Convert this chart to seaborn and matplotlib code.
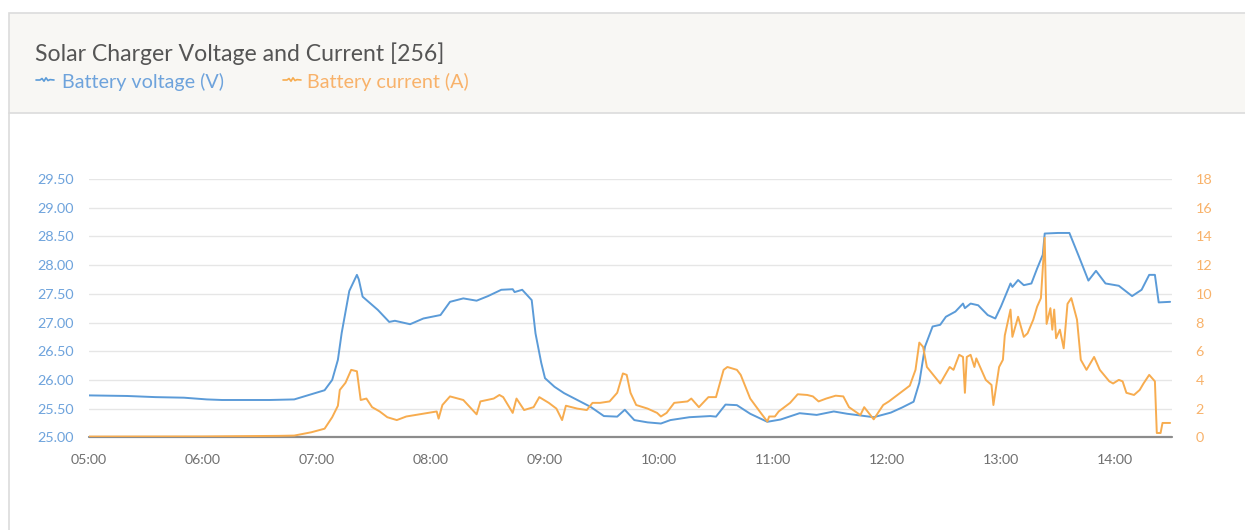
import matplotlib
matplotlib.use("Agg")
import matplotlib.pyplot as plt
import matplotlib.dates as mdates
from matplotlib.patches import Rectangle
from matplotlib.lines import Line2D
import pandas as pd
import seaborn as sns

# Battery voltage samples (time of day, volts)
voltage_times = [
    "05:00", "05:20", "05:35", "05:50", "06:02", "06:10", "06:35", "06:48", "06:55",
    "07:04", "07:08", "07:11", "07:13", "07:17", "07:21", "07:22", "07:24", "07:32",
    "07:38", "07:41", "07:49", "07:56", "08:05", "08:10", "08:17", "08:24", "08:30",
    "08:37", "08:43", "08:44", "08:48", "08:53", "08:55", "08:58", "09:00", "09:05",
    "09:10", "09:17", "09:24", "09:31", "09:38", "09:42", "09:47", "09:54", "10:01",
    "10:06", "10:16", "10:27", "10:30", "10:35", "10:41", "10:48", "10:57", "11:04",
    "11:14", "11:23", "11:32", "11:39", "11:53", "12:02", "12:08", "12:14", "12:17",
    "12:20", "12:24", "12:28", "12:31", "12:36", "12:40", "12:41", "12:44", "12:48",
    "12:53", "12:57", "13:00", "13:05", "13:06", "13:09", "13:12", "13:16", "13:19",
    "13:22", "13:23", "13:30", "13:36", "13:41", "13:46", "13:50", "13:55", "14:02",
    "14:09", "14:14", "14:18", "14:21", "14:23", "14:29",
]
voltage_values = [
    25.73, 25.72, 25.70, 25.69, 25.66, 25.65, 25.65, 25.66, 25.73,
    25.82, 26.00, 26.35, 26.82, 27.55, 27.83, 27.75, 27.45, 27.22,
    27.01, 27.03, 26.97, 27.07, 27.13, 27.36, 27.42, 27.38, 27.46,
    27.57, 27.58, 27.53, 27.57, 27.39, 26.81, 26.30, 26.03, 25.88,
    25.77, 25.65, 25.53, 25.37, 25.36, 25.48, 25.30, 25.26, 25.24,
    25.30, 25.35, 25.37, 25.36, 25.57, 25.56, 25.41, 25.27, 25.31,
    25.42, 25.39, 25.45, 25.41, 25.35, 25.43, 25.52, 25.62, 25.95,
    26.58, 26.93, 26.96, 27.10, 27.19, 27.33, 27.25, 27.33, 27.30,
    27.13, 27.07, 27.28, 27.68, 27.62, 27.74, 27.65, 27.68, 27.94,
    28.18, 28.55, 28.56, 28.56, 28.15, 27.73, 27.90, 27.68, 27.64,
    27.46, 27.57, 27.83, 27.83, 27.35, 27.36,
]

# Battery current samples (time of day, amps)
current_times = [
    "05:00", "06:00", "06:40", "06:48", "06:57", "07:04", "07:08", "07:11", "07:12",
    "07:15", "07:18", "07:21", "07:23", "07:26", "07:29", "07:33", "07:37", "07:42",
    "07:47", "07:54", "08:03", "08:04", "08:06", "08:10", "08:17", "08:24", "08:26",
    "08:33", "08:36", "08:38", "08:43", "08:45", "08:49", "08:54", "08:57", "09:02",
    "09:06", "09:09", "09:11", "09:17", "09:22", "09:25", "09:29", "09:34", "09:38",
    "09:41", "09:43", "09:45", "09:48", "09:54", "09:59", "10:01", "10:04", "10:08",
    "10:15", "10:17", "10:21", "10:26", "10:30", "10:34", "10:36", "10:41", "10:43",
    "10:48", "10:53", "10:57", "10:58", "11:01", "11:03", "11:09", "11:13", "11:18",
    "11:21", "11:24", "11:28", "11:33", "11:37", "11:40", "11:46", "11:48", "11:53",
    "11:58", "12:01", "12:07", "12:12", "12:15", "12:17", "12:19", "12:21", "12:28",
    "12:33", "12:35", "12:38", "12:40", "12:41", "12:42", "12:44", "12:46", "12:47",
    "12:52", "12:55", "12:56", "12:59", "13:01", "13:02", "13:05", "13:06", "13:09",
    "13:12", "13:14", "13:17", "13:19", "13:21", "13:23", "13:24", "13:26", "13:27",
    "13:28", "13:29", "13:31", "13:33", "13:35", "13:37", "13:40", "13:42", "13:45",
    "13:49", "13:52", "13:57", "13:59", "14:02", "14:04", "14:06", "14:10", "14:13",
    "14:15", "14:18", "14:21", "14:22", "14:24", "14:25", "14:29",
]
current_values = [
    0.05, 0.06, 0.10, 0.12, 0.35, 0.60, 1.40, 2.20, 3.30,
    3.80, 4.70, 4.60, 2.60, 2.70, 2.10, 1.80, 1.40, 1.20,
    1.45, 1.60, 1.80, 1.30, 2.25, 2.85, 2.60, 1.60, 2.50,
    2.70, 2.95, 2.80, 1.70, 2.70, 1.90, 2.10, 2.80, 2.40,
    2.00, 1.20, 2.20, 2.00, 1.90, 2.40, 2.40, 2.50, 3.10,
    4.45, 4.35, 3.10, 2.25, 2.00, 1.70, 1.45, 1.70, 2.40,
    2.50, 2.70, 2.10, 2.80, 2.80, 4.70, 4.90, 4.70, 4.35,
    2.70, 1.80, 1.10, 1.45, 1.45, 1.80, 2.40, 3.00, 2.95,
    2.85, 2.50, 2.70, 2.90, 2.85, 2.10, 1.55, 2.10, 1.25,
    2.25, 2.50, 3.10, 3.60, 4.70, 6.60, 6.30, 4.90, 3.75,
    4.90, 4.70, 5.75, 5.60, 3.10, 5.60, 5.75, 4.90, 5.50,
    4.00, 3.65, 2.25, 4.90, 5.40, 7.10, 8.90, 7.00, 8.40,
    7.00, 7.25, 8.20, 9.10, 9.70, 13.90, 7.90, 9.00, 7.50,
    8.90, 6.90, 7.50, 6.20, 9.30, 9.70, 8.20, 5.40, 4.70,
    5.60, 4.70, 3.90, 3.75, 4.00, 3.90, 3.10, 2.95, 3.30,
    3.75, 4.35, 3.90, 0.30, 0.30, 1.00, 1.00,
]

voltage_ticks = [25.0, 25.5, 26.0, 26.5, 27.0, 27.5, 28.0, 28.5, 29.0, 29.5]
current_ticks = [0, 2, 4, 6, 8, 10, 12, 14, 16, 18]
x_start, x_end = "05:00", "14:30"

title_text = "Solar Charger Voltage and Current [256]"
voltage_label = "Battery voltage (V)"
current_label = "Battery current (A)"

BLUE = "#5b9bd8"
ORANGE = "#f7ac4f"
BLUE_TXT = "#6ea3dc"
ORANGE_TXT = "#f8b26a"
GRID = "#e6e6e6"


def to_time(values):
    return pd.to_datetime(["2020-01-01 " + v for v in values])


volt_df = pd.DataFrame({"time": to_time(voltage_times), "volts": voltage_values})
curr_df = pd.DataFrame({"time": to_time(current_times), "amps": current_values})

sns.set_theme(style="white")
plt.rcParams["font.family"] = ["Lato", "DejaVu Sans"]

W, H = 1245, 530
fig = plt.figure(figsize=(W / 100, H / 100), dpi=100)
fig.patch.set_facecolor("white")


def fx(px):
    return px / W


def fy(py):
    return 1 - py / H


# Panel frame: header band and left border of the card
fig.add_artist(Rectangle((fx(8.5), fy(112.5)), 1.2, fy(12.5) - fy(112.5),
                         transform=fig.transFigure, facecolor="#f8f7f4",
                         edgecolor="#dcdcdc", linewidth=1.2, zorder=0))
fig.add_artist(Line2D([fx(8.5), fx(8.5)], [0, fy(112.5)], transform=fig.transFigure,
                      color="#dcdcdc", linewidth=1.2))

fig.text(fx(35), fy(61), title_text, fontsize=16.6, color="#555555", va="baseline")


# Legend entries with the small sparkline glyph
def legend_glyph(x0, y0, color):
    xs = [0, 4, 6, 8, 10, 12, 14, 18]
    ys = [0, 0, 1.5, -1.2, 2.2, -0.6, 0.4, 0]
    fig.add_artist(Line2D([fx(x0 + a) for a in xs], [fy(y0 - b) for b in ys],
                          transform=fig.transFigure, color=color, linewidth=1.2))


legend_glyph(36, 80, BLUE)
fig.text(fx(62), fy(88), voltage_label, fontsize=14.2, color=BLUE_TXT, va="baseline")
legend_glyph(283, 80, ORANGE)
fig.text(fx(307), fy(88), current_label, fontsize=14.2, color=ORANGE_TXT, va="baseline")

# Chart area
left, right, top, bottom = 89, 1172, 179, 437.3
ax = fig.add_axes([fx(left), fy(bottom), fx(right) - fx(left), fy(top) - fy(bottom)])
ax2 = ax.twinx()

sns.lineplot(data=volt_df, x="time", y="volts", ax=ax, color=BLUE, linewidth=1.4,
             zorder=3)
sns.lineplot(data=curr_df, x="time", y="amps", ax=ax2, color=ORANGE, linewidth=1.4,
             zorder=3)

t0, t1 = to_time([x_start, x_end])
ax.set_xlim(t0, t1)
ax.set_ylim(voltage_ticks[0], voltage_ticks[-1])
ax2.set_ylim(current_ticks[0], current_ticks[-1])
ax.set_yticks(voltage_ticks)
ax.set_yticklabels([f"{v:.2f}" for v in voltage_ticks])
ax2.set_yticks(current_ticks)
ax2.set_yticklabels([str(v) for v in current_ticks])

ax.xaxis.set_major_locator(mdates.HourLocator())
ax.xaxis.set_major_formatter(mdates.DateFormatter("%H:%M"))

for a in (ax, ax2):
    a.set_xlabel("")
    a.set_ylabel("")
    a.set_facecolor("none")
    for s in ("top", "left", "right", "bottom"):
        a.spines[s].set_visible(False)

ax.grid(axis="y", color=GRID, linewidth=1.0)
ax.grid(axis="x", visible=False)
ax2.grid(False)
ax.axhline(voltage_ticks[0], color="#8c8c8c", linewidth=1.6, zorder=4, clip_on=False)

ax.tick_params(axis="x", which="major", length=8, width=1, color="#ccd6eb",
               labelcolor="#707070", labelsize=10.2, pad=4, direction="out")
ax.tick_params(axis="y", length=0, labelcolor=BLUE_TXT, labelsize=10.4, pad=11)
ax2.tick_params(axis="y", length=0, labelcolor=ORANGE_TXT, labelsize=10.4, pad=17)
ax2.tick_params(axis="x", length=0)

ax2.set_zorder(ax.get_zorder() + 1)
ax2.patch.set_visible(False)

fig.savefig("out.png", dpi=100)
